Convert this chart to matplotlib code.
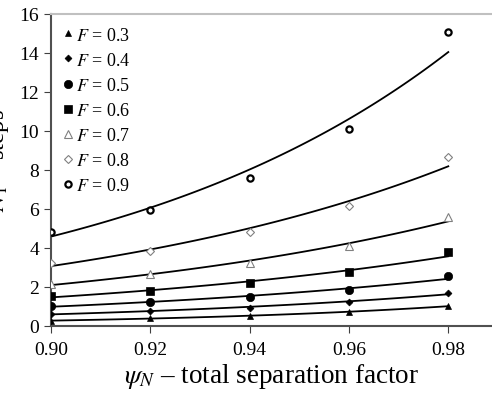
import numpy as np
import matplotlib
matplotlib.use("Agg")
import matplotlib.pyplot as plt

plt.rcParams['font.family'] = ['Liberation Serif', 'DejaVu Serif']
plt.rcParams['mathtext.fontset'] = 'stix'

psi = [0.90, 0.92, 0.94, 0.96, 0.98]
F_vals = [0.3, 0.4, 0.5, 0.6, 0.7, 0.8, 0.9]
steps = {
    0.3: [0.27, 0.39, 0.53, 0.73, 1.01],
    0.4: [0.62, 0.75, 0.94, 1.25, 1.69],
    0.5: [1.03, 1.21, 1.49, 1.86, 2.55],
    0.6: [1.54, 1.79, 2.20, 2.75, 3.78],
    0.7: [2.15, 2.67, 3.21, 4.12, 5.60],
    0.8: [3.21, 3.86, 4.80, 6.17, 8.65],
    0.9: [4.84, 5.97, 7.57, 10.10, 15.08],
}
# marker, size, face, edge, edge width
styles = {
    0.3: ('^', 4, 'black', 'black', 0.5),
    0.4: ('D', 3.5, 'black', 'black', 0.5),
    0.5: ('o', 6, 'black', 'black', 0.5),
    0.6: ('s', 5.5, 'black', 'black', 0.5),
    0.7: ('^', 6, 'white', '#808080', 0.8),
    0.8: ('D', 4.5, 'white', '#808080', 0.8),
    0.9: ('o', 4.5, 'white', 'black', 1.6),
}

fig = plt.figure(figsize=(4.92, 4.02), dpi=100)
ax = fig.add_axes([0.1037, 0.1866, 0.8963, 0.7761])

x = np.array(psi)
xs = np.linspace(0.90, 0.98, 100)
for f in F_vals:
    y = np.array(steps[f])
    # exponential trend line
    b, a = np.polyfit(x, np.log(y), 1)
    ax.plot(xs, np.exp(a + b * xs), color='black', lw=1.3, zorder=2)
    m, ms, fc, ec, mew = styles[f]
    ax.plot(x, y, ls='none', marker=m, ms=ms, mfc=fc, mec=ec, mew=mew,
            label='$F$ = %.1f' % f, zorder=3)

ax.set_xlim(0.90, 0.9888)
ax.set_ylim(0, 16)
ax.set_xticks([0.90, 0.92, 0.94, 0.96, 0.98])
ax.set_xticklabels(['0.90', '0.92', '0.94', '0.96', '0.98'])
ax.set_yticks(range(0, 17, 2))
ax.tick_params(labelsize=14, length=5, color='#404040', direction='out')
ax.tick_params(axis='x', pad=6)

ax.spines['right'].set_visible(False)
ax.spines['top'].set_color('#c0c0c0')
ax.spines['top'].set_linewidth(1.5)
ax.spines['left'].set_color('#505050')
ax.spines['left'].set_linewidth(1.5)
ax.spines['bottom'].set_color('#505050')
ax.spines['bottom'].set_linewidth(1.5)

ax.set_xlabel(r'$\psi_N$ – total separation factor', fontsize=19.5, labelpad=2)
ax.set_ylabel(r'$N_1$ – steps', fontsize=18)
ax.yaxis.set_label_coords(-0.09, 0.535)

ax.legend(loc='upper left', frameon=False, fontsize=13, handlelength=0.5,
          handletextpad=0.2, labelspacing=0.45, borderaxespad=0.3,
          bbox_to_anchor=(0.0, 1.0))

fig.savefig('out.png', dpi=100)
